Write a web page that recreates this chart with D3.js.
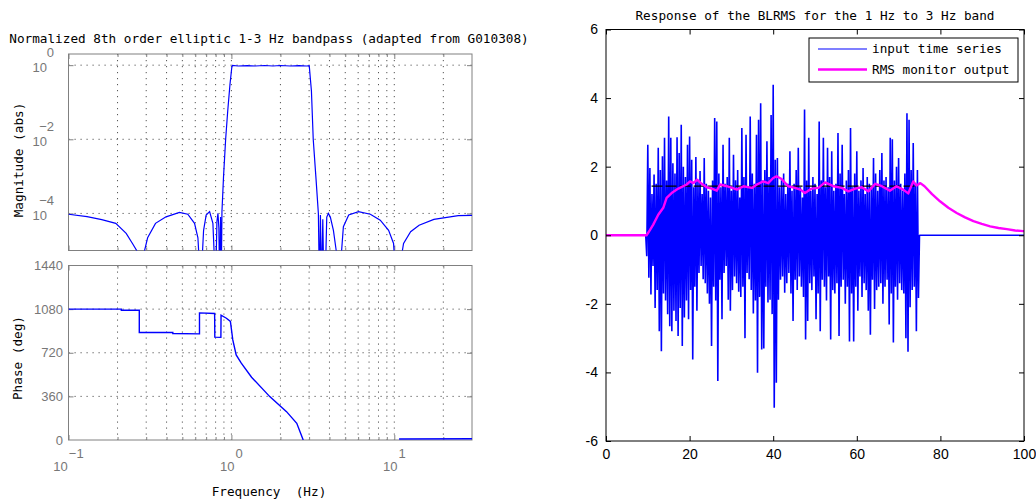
<!DOCTYPE html>
<html>
<head>
<meta charset="utf-8">
<script src="https://cdn.jsdelivr.net/npm/d3@7"></script>
<style>
body { margin: 0; background: #fff; }
svg { display: block; }
.mono { font-family: "DejaVu Sans Mono", monospace; font-size: 12.7px; fill: #000; }
.numL { font-family: "Liberation Sans", Arial, sans-serif; font-size: 13px; fill: #777; }
.numR { font-family: "Liberation Sans", Arial, sans-serif; font-size: 14px; fill: #000; }
</style>
</head>
<body>
<svg width="1036" height="499"></svg>
<script>
const svg = d3.select('svg')

// ---------- data: left, filter response ----------
const freqMajor = [0.1, 1, 10]
const freqMinor = [0.2, 0.3, 0.4, 0.5, 0.6, 0.7, 0.8, 0.9, 2, 3, 4, 5, 6, 7, 8, 9, 20]
const magTicks = [1e-4, 1e-2, 1]
const magExp = ['\u22124', '\u22122', '0']
const phaseTicks = [0, 360, 720, 1080, 1440]
const phaseGrid = [360, 720, 1080]

// [frequency (Hz), magnitude (abs)]
const magData = [
  [0.1, 9.5e-5], [0.13, 8.2e-5], [0.16, 6.8e-5], [0.195, 5.4e-5], [0.226, 2.9e-5],
  [0.247, 1.55e-5], [0.262, 1e-5], [0.277, 1e-6], [0.293, 1e-5], [0.306, 2.2e-5],
  [0.342, 5.4e-5], [0.397, 8.1e-5], [0.48, 1.07e-4], [0.54, 9.5e-5], [0.594, 5.4e-5],
  [0.623, 2.2e-5], [0.648, 1e-6], [0.675, 3.5e-5], [0.70, 9.1e-5], [0.735, 1.12e-4],
  [0.77, 5.4e-5], [0.80, 1e-6], [0.815, 6e-5], [0.827, 1.0e-4], [0.838, 4e-5],
  [0.847, 1e-6], [0.858, 8e-5], [0.866, 1e-6], [0.875, 1.1e-4], [0.895, 1e-3],
  [0.922, 1e-2], [0.95, 6e-2], [0.98, 0.3], [1.005, 0.85], [1.014, 0.98],
  [1.1, 0.95], [1.25, 0.97], [1.4, 0.95], [1.6, 0.98], [1.8, 0.95], [2.0, 0.98],
  [2.3, 0.95], [2.6, 0.97], [2.9, 0.95], [3.0, 0.97], [3.01, 0.9], [3.1, 0.2],
  [3.18, 1e-2], [3.3, 1e-3], [3.42, 1e-4], [3.47, 1e-6], [3.52, 9e-5], [3.58, 1e-6],
  [3.64, 7e-5], [3.7, 1e-6], [3.76, 1e-6], [3.85, 8e-5], [3.94, 1.0e-4], [4.05, 8e-5],
  [4.23, 3.5e-5], [4.4, 1e-5], [4.6, 1e-6], [4.75, 1e-5], [4.87, 4.4e-5], [5.25, 9.1e-5],
  [6.03, 1.12e-4], [7.13, 9.5e-5], [8.2, 6.6e-5], [9.23, 3.5e-5], [9.9, 1.55e-5],
  [10.3, 1e-6], [11.4, 1.55e-5], [12.6, 3.2e-5], [14.2, 4.8e-5], [17.5, 6.9e-5],
  [24.7, 8.7e-5], [30, 8.9e-5]
]

// [frequency (Hz), phase (deg)], null = off the plot
const phaseData = [
  [0.1, 1080], [0.211, 1080], [0.211, 1071], [0.272, 1071], [0.272, 887], [0.437, 887],
  [0.437, 879], [0.637, 876], [0.637, 1049], [0.789, 1044], [0.791, 849], [0.862, 847],
  [0.864, 1030], [0.932, 1005], [0.986, 978], [1.02, 826], [1.07, 702], [1.15, 634],
  [1.33, 518], [1.72, 358], [2.18, 234], [2.52, 138], [2.76, 0], [2.8, null],
  [10.7, null], [10.7, 8], [30, 10]
]

// ---------- data: right, BLRMS response ----------
const timeTicks = [0, 20, 40, 60, 80, 100]
const ampTicks = [-6, -4, -2, 0, 2, 4, 6]
const burstStart = 9.5, burstStep = 0.25
const inputValues = [
  0, -0.61,
  2.64, -1.24, 1.96, -1.73,  1.2, -0.9, 1.77, -2.12,  1.5, -1.6, 2.55, -2.8,
  1.9, -3.38, 2.3, -1.7,  2.84, -1.9, 1.6, -2.3,  3.46, -2.65, 2.84, -2.8,
  2.1, -2.2, 1.8, -2.5,  2.86, -2.94, 2.4, -2.12,  3.22, -3.23, 2.0, -2.4,
  1.7, -1.9, 2.64, -2.45,  2.88, -1.6, 2.2, -3.62,  1.4, -1.5, 2.28, -2.2,
  1.6, -1.1, 1.87, -0.9,  1.2, -1.28, 2.25, -1.4,  1.5, -1.7, 1.3, -2.0,
  1.1, -3.23, 1.6, -1.5,  3.42, -1.9, 3.32, -4.25,  1.8, -1.3, 1.4, -2.45,
  2.64, -1.1, 1.5, -0.9,  1.7, -1.88, 2.84, -2.2,  1.3, -1.6, 2.35, -1.2,
  1.6, -1.4, 1.9, -1.65,  1.1, -1.8, 3.13, -1.5,  1.7, -3.0, 2.93, -1.1,
  1.4, -1.28, 3.46, -1.6,  1.8, -2.28, 1.5, -1.9,  2.93, -4.01, 3.37, -1.8,
  3.85, -3.33, 1.6, -3.3,  1.9, -1.5, 2.74, -1.96,  1.7, -1.88, 3.51, -2.3,
  4.39, -5.03, 2.2, -4.3,  2.25, -1.88, 1.4, -1.3,  1.6, -1.2, 1.8, -1.68,
  1.2, -1.4, 1.5, -1.1,  2.45, -1.7, 1.3, -2.5,  1.5, -1.3, 1.9, -1.6,
  2.55, -1.2, 1.4, -1.5,  1.1, -1.8, 3.67, -3.04,  1.6, -2.5, 2.84, -1.4,
  1.3, -1.6, 1.7, -1.2,  1.5, -2.45, 1.2, -1.7,  3.32, -2.8, 1.6, -1.3,
  2.84, -1.5, 1.4, -1.9,  2.55, -1.2, 1.7, -3.04,  2.45, -1.6, 1.3, -1.7,
  1.5, -1.4, 2.98, -2.94,  1.8, -1.5, 2.64, -1.3,  1.2, -2.0, 1.6, -1.5,
  1.9, -3.1, 3.13, -1.7,  1.4, -3.1, 1.8, -1.5,  2.45, -2.2, 1.3, -1.2,
  1.6, -1.8, 1.96, -1.4,  1.2, -1.6, 1.7, -2.2,  1.5, -2.9, 1.4, -1.3,
  2.25, -2.15, 1.8, -1.6,  1.3, -1.5, 1.9, -1.4,  2.4, -2.0, 1.6, -1.5,
  1.7, -1.3, 1.4, -2.6,  2.84, -1.7, 2.8, -3.13,  1.6, -1.5, 2.0, -1.88,
  2.25, -1.4, 1.5, -1.6,  1.3, -1.7, 1.8, -3.0,  3.56, -3.4, 3.37, -2.1,
  1.9, -1.6, 2.69, -1.5,  1.5, -2.8, 1.9, -1.83,
  0
]
const inputBefore = [[0, 0]]
const inputAfter = [[100, 0]]

// [time (s), rms]
const rmsData = [
  [0, 0], [9.7, 0], [10.5, 0.15], [11.3, 0.31], [12.5, 0.6], [13.7, 0.8], [14.5, 1.09],
  [15.7, 1.23], [17.3, 1.36], [19.3, 1.48], [20.1, 1.57], [20.9, 1.52], [21.8, 1.62],
  [22.9, 1.5], [24.1, 1.4], [25.3, 1.36], [26.5, 1.3], [27.3, 1.48], [28.9, 1.43],
  [30.2, 1.38], [31.3, 1.33], [32.9, 1.43], [34.9, 1.38], [36.1, 1.48], [37.6, 1.57],
  [38.8, 1.52], [40.0, 1.67], [40.8, 1.72], [42.0, 1.64], [43.6, 1.43], [45.2, 1.38],
  [46.5, 1.33], [47.6, 1.23], [49.2, 1.36], [50.8, 1.38], [52.4, 1.54], [54.4, 1.43],
  [56.4, 1.38], [58.0, 1.28], [59.6, 1.36], [61.2, 1.4], [62.8, 1.28], [64.4, 1.5],
  [66.0, 1.43], [67.9, 1.3], [69.5, 1.43], [71.1, 1.33], [72.3, 1.22], [73.5, 1.57],
  [74.3, 1.45], [75.2, 1.52], [76.2, 1.43], [78.0, 1.2], [79.9, 0.99], [81.9, 0.8],
  [83.9, 0.65], [85.9, 0.52], [87.9, 0.41], [89.9, 0.33], [91.9, 0.26], [93.9, 0.21],
  [95.9, 0.18], [97.9, 0.14], [99.8, 0.12], [100, 0.12]
]
const refLevel = [[10.9, 1.43], [73.9, 1.43]]

// ---------- left panels ----------
const frameGray = '#808080'
const xf = d3.scaleLog().domain([0.1, 30]).range([68.5, 472])
const ym = d3.scaleLog().domain([1e-5, 2]).range([250.5, 54])
const yp = d3.scaleLinear().domain([0, 1440]).range([440, 265.5])

const defs = svg.append('defs')
function clip(id, x0, y0, x1, y1) {
  defs.append('clipPath').attr('id', id).append('rect')
    .attr('x', x0).attr('y', y0).attr('width', x1 - x0).attr('height', y1 - y0)
}
clip('cm', 68.5, 54, 472, 250.5)
clip('cp', 68.5, 265.5, 472, 440)

function freqPanel(yScale, yGrid) {
  const [yb, yt] = yScale.range()
  const g = svg.append('g')
  // grid
  g.selectAll('.vg').data(freqMinor.concat([1, 10])).enter().append('line')
    .attr('x1', d => xf(d)).attr('x2', d => xf(d)).attr('y1', yt).attr('y2', yb)
    .attr('stroke', '#555').attr('stroke-dasharray', '1.2,4.8')
  g.selectAll('.hg').data(yGrid).enter().append('line')
    .attr('x1', 68.5).attr('x2', 472).attr('y1', d => yScale(d)).attr('y2', d => yScale(d))
    .attr('stroke', '#555').attr('stroke-dasharray', '1.2,4.8')
  // ticks on all four sides
  const axes = [
    [d3.axisBottom(xf), `translate(0,${yb})`, freqMinor, 3],
    [d3.axisBottom(xf), `translate(0,${yb})`, freqMajor, 5],
    [d3.axisTop(xf), `translate(0,${yt})`, freqMinor, 3],
    [d3.axisTop(xf), `translate(0,${yt})`, freqMajor, 5],
    [d3.axisLeft(yScale), 'translate(68.5,0)', yGrid, 5],
    [d3.axisRight(yScale), 'translate(472,0)', yGrid, 5]
  ]
  axes.forEach(([ax, tr, vals, len]) => {
    const a = g.append('g').attr('transform', tr)
      .call(ax.tickValues(vals).tickSize(-len).tickSizeOuter(0).tickFormat(''))
    a.select('.domain').remove()
    a.selectAll('line').attr('stroke', frameGray)
  })
  g.append('rect').attr('x', 68.5).attr('y', yt).attr('width', 472 - 68.5).attr('height', yb - yt)
    .attr('fill', 'none').attr('stroke', frameGray)
  return g
}

const gm = freqPanel(ym, magTicks)
const gp = freqPanel(yp, phaseGrid)

gm.append('path').datum(magData)
  .attr('clip-path', 'url(#cm)')
  .attr('d', d3.line().x(d => xf(d[0])).y(d => ym(d[1])))
  .attr('fill', 'none').attr('stroke', '#0000ff').attr('stroke-width', 1.2)

gp.append('path').datum(phaseData)
  .attr('clip-path', 'url(#cp)')
  .attr('d', d3.line().defined(d => d[1] != null).x(d => xf(d[0])).y(d => yp(d[1])))
  .attr('fill', 'none').attr('stroke', '#0000ff').attr('stroke-width', 1.4)

// magnitude labels 10^e
magTicks.forEach((v, i) => {
  gm.append('text').attr('class', 'numL').attr('x', 47).attr('y', ym(v) + 7)
    .attr('text-anchor', 'end').text('10')
  gm.append('text').attr('class', 'numL').attr('x', 54).attr('y', ym(v) - 8)
    .attr('text-anchor', 'end').text(magExp[i])
})
phaseTicks.forEach(v => {
  gp.append('text').attr('class', 'numL').attr('x', 63).attr('y', yp(v))
    .attr('dy', '0.35em').attr('text-anchor', 'end').text(v)
})
const freqExp = ['\u22121', '0', '1']
freqMajor.forEach((v, i) => {
  const t = gp.append('text').attr('class', 'numL').attr('x', xf(v)).attr('y', 471)
    .attr('text-anchor', 'middle').text('10')
  t.append('tspan').attr('dy', -13).attr('dx', 1).text(freqExp[i])
})

svg.append('text').attr('class', 'mono').attr('x', 269).attr('y', 43).attr('text-anchor', 'middle')
  .text('Normalized 8th order elliptic 1-3 Hz bandpass (adapted from G010308)')
svg.append('text').attr('class', 'mono').attr('transform', 'translate(23,160) rotate(-90)')
  .attr('text-anchor', 'middle').text('Magnitude (abs)')
svg.append('text').attr('class', 'mono').attr('transform', 'translate(22,358) rotate(-90)')
  .attr('text-anchor', 'middle').text('Phase (deg)')
svg.append('text').attr('class', 'mono').attr('x', 269).attr('y', 496).attr('text-anchor', 'middle')
  .style('white-space', 'pre').text('Frequency  (Hz)')

// ---------- right panel ----------
const xt = d3.scaleLinear().domain([0, 100]).range([606, 1024])
const ya = d3.scaleLinear().domain([-6, 6]).range([441, 29.5])
const gr = svg.append('g')
clip('cr', 606, 29.5, 1024, 441)

const inputSeries = inputBefore
  .concat(inputValues.map((v, i) => [burstStart + i * burstStep, v]))
  .concat(inputAfter)

const line = d3.line().x(d => xt(d[0])).y(d => ya(d[1]))
gr.append('path').datum(inputSeries).attr('clip-path', 'url(#cr)')
  .attr('d', line).attr('fill', 'none').attr('stroke', '#0000ff').attr('stroke-width', 1.6)
  .attr('stroke-linejoin', 'bevel')
gr.append('path').datum(refLevel)
  .attr('d', line).attr('fill', 'none').attr('stroke', '#000').attr('stroke-width', 1.2)
  .attr('stroke-dasharray', '11,3')
gr.append('path').datum(rmsData).attr('clip-path', 'url(#cr)')
  .attr('d', line).attr('fill', 'none').attr('stroke', '#ff00ff').attr('stroke-width', 2.4)
  .attr('stroke-linejoin', 'round')

const rAxes = [
  [d3.axisBottom(xt).tickValues(timeTicks), 'translate(0,441)', true],
  [d3.axisTop(xt).tickValues(timeTicks), 'translate(0,29.5)', false],
  [d3.axisLeft(ya).tickValues(ampTicks), 'translate(606,0)', true],
  [d3.axisRight(ya).tickValues(ampTicks), 'translate(1024,0)', false]
]
rAxes.forEach(([ax, tr, labels]) => {
  const a = gr.append('g').attr('transform', tr)
    .call(ax.tickSize(-5).tickSizeOuter(0).tickPadding(8)
      .tickFormat(labels ? (d => String(d)) : ''))
  a.select('.domain').remove()
  a.selectAll('line').attr('stroke', '#000')
  a.selectAll('text').attr('class', 'numR').attr('fill', null)
})
gr.append('rect').attr('x', 606).attr('y', 29.5).attr('width', 1024 - 606).attr('height', 441 - 29.5)
  .attr('fill', 'none').attr('stroke', '#000')

svg.append('text').attr('class', 'mono').attr('x', 815).attr('y', 20).attr('text-anchor', 'middle')
  .text('Response of the BLRMS for the 1 Hz to 3 Hz band')

// legend
const legend = [
  { name: 'input time series', color: '#0000ff', w: 1.2 },
  { name: 'RMS monitor output', color: '#ff00ff', w: 2.4 }
]
const lg = svg.append('g').attr('transform', 'translate(809,38)')
lg.append('rect').attr('width', 209).attr('height', 44).attr('fill', '#fff').attr('stroke', '#000')
legend.forEach((d, i) => {
  const cy = 11 + i * 20.5
  lg.append('line').attr('x1', 9).attr('x2', 58).attr('y1', cy).attr('y2', cy)
    .attr('stroke', d.color).attr('stroke-width', d.w)
  lg.append('text').attr('class', 'mono').attr('x', 63).attr('y', cy).attr('dy', '0.35em').text(d.name)
})
</script>
</body>
</html>
